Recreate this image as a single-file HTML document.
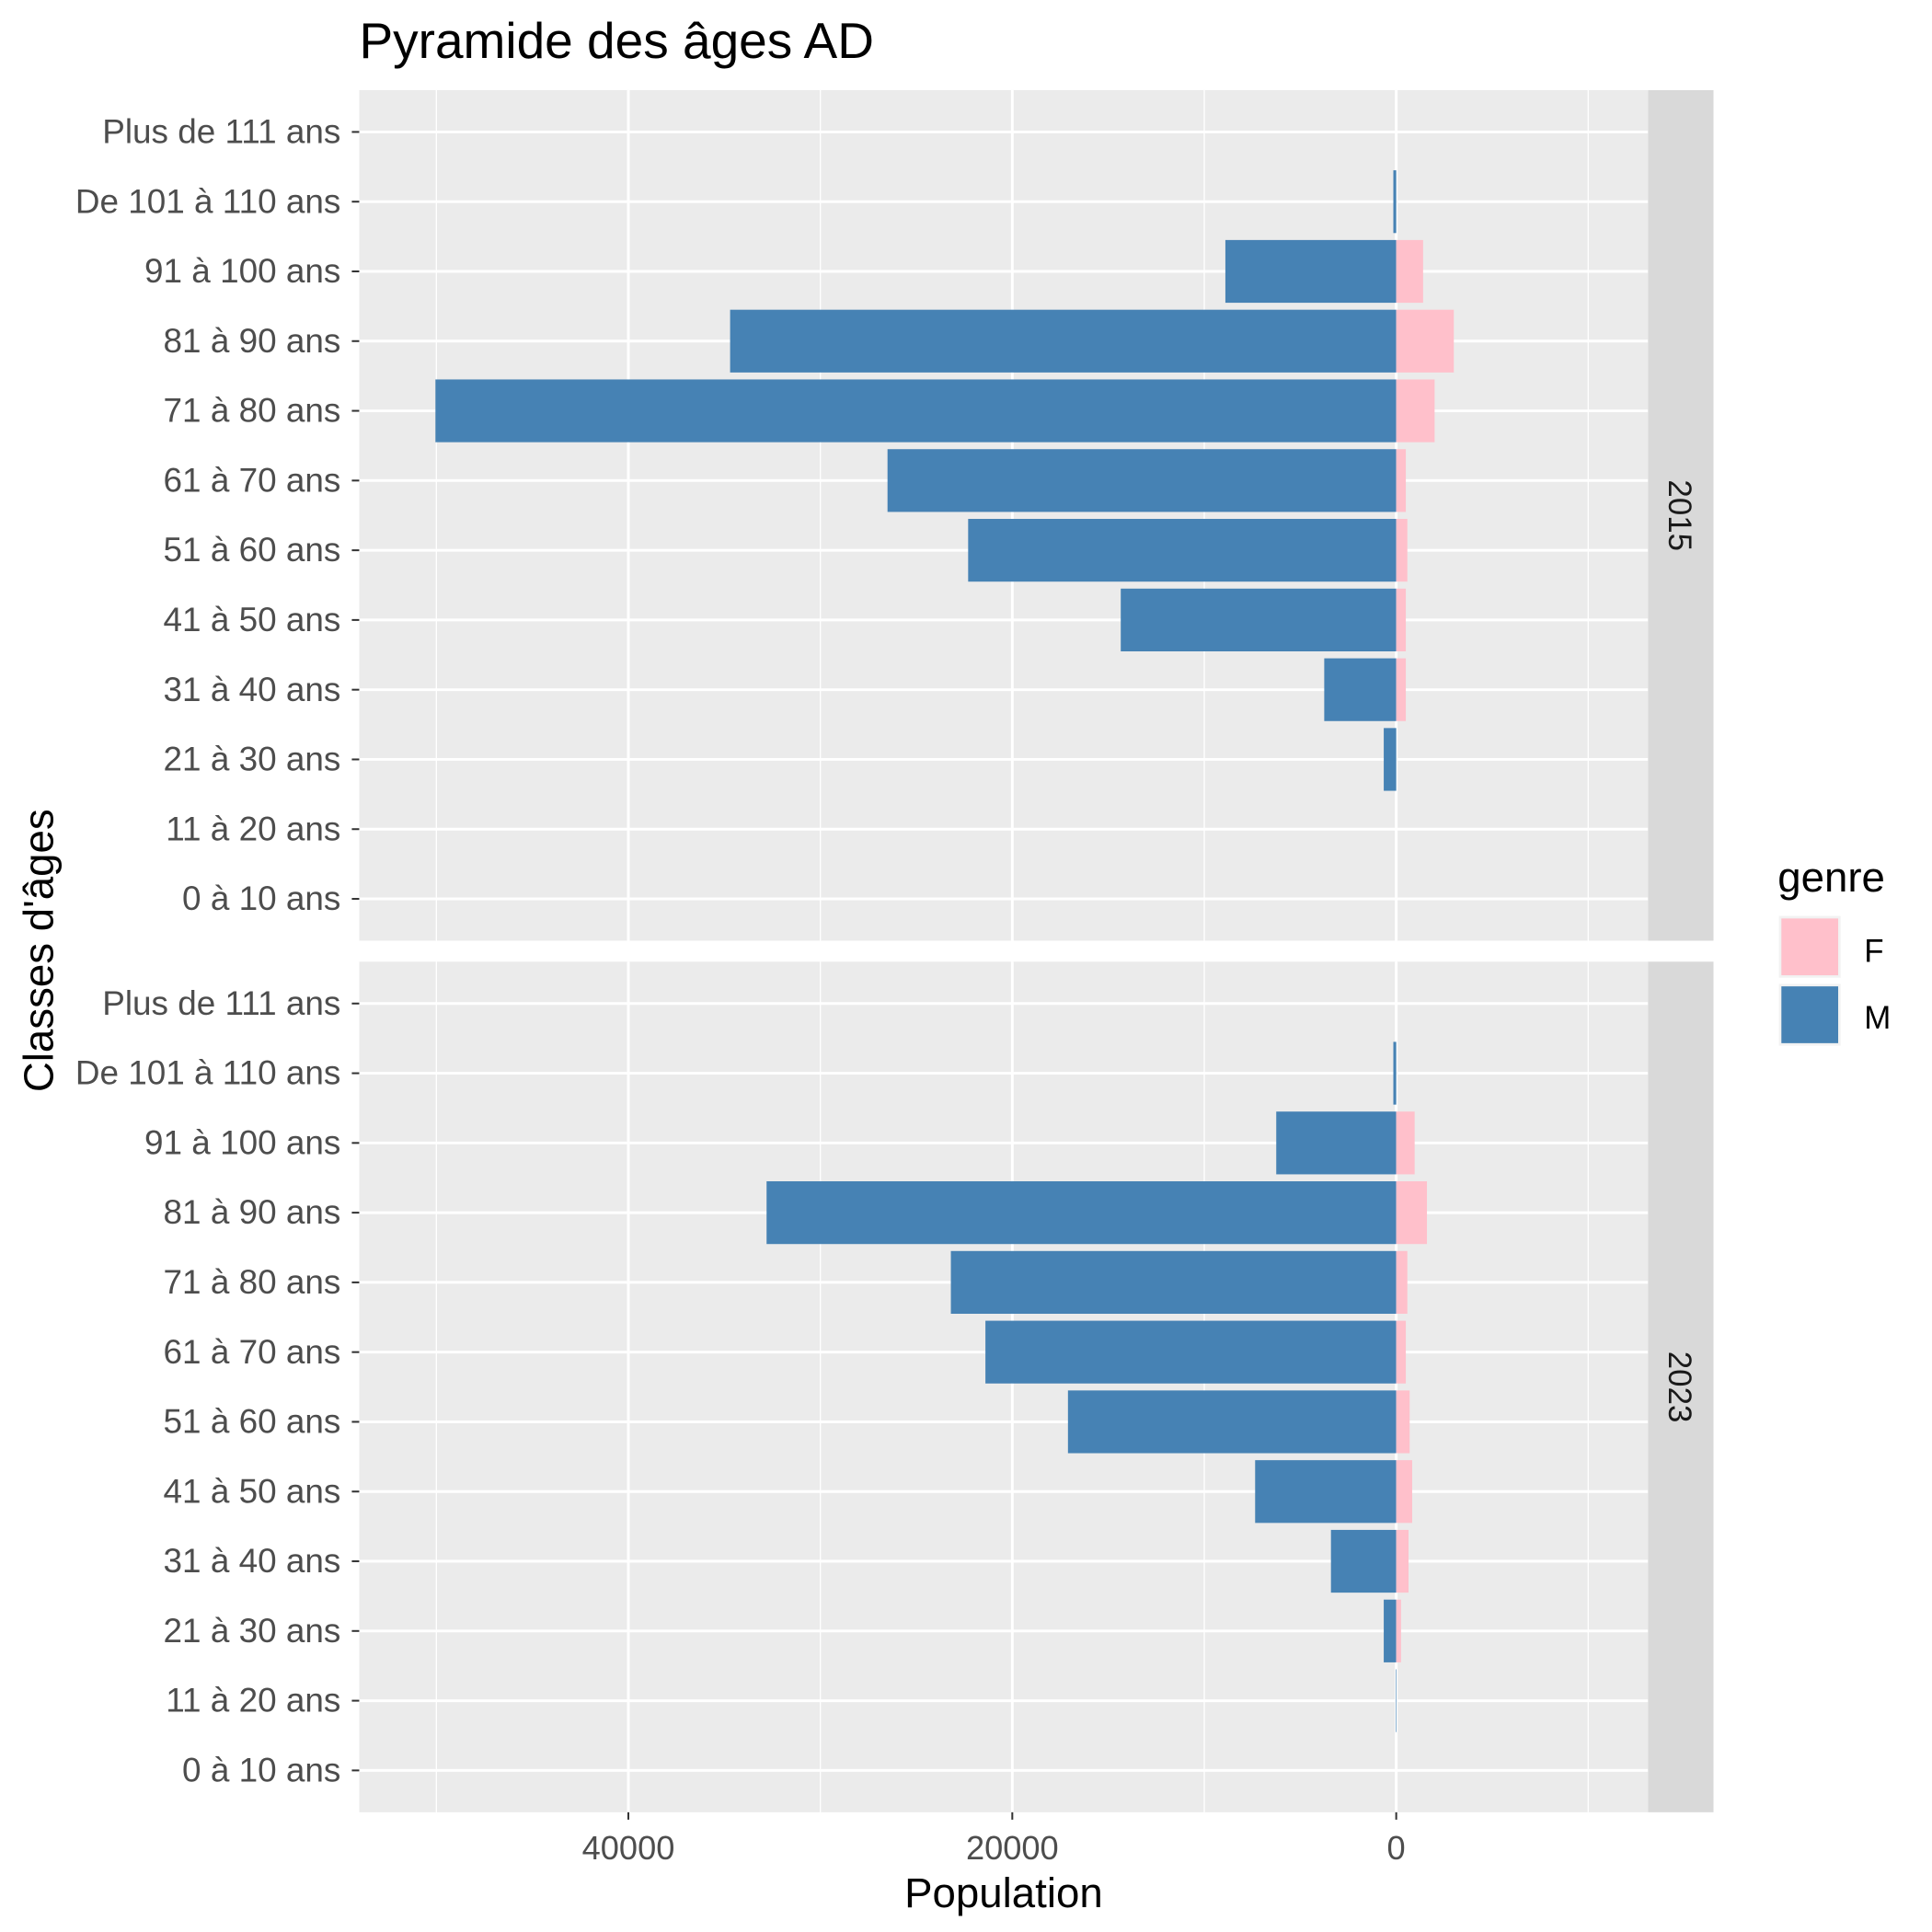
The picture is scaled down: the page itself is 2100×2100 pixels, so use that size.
<!DOCTYPE html>
<html><head><meta charset="utf-8"><style>
html,body{margin:0;padding:0;background:#fff}
svg{display:block}
text{font-family:"Liberation Sans",Arial,sans-serif}
</style></head><body>
<svg id="chart" width="2100" height="2100" viewBox="0 0 1565 1565" xmlns="http://www.w3.org/2000/svg">
<text x="291" y="47" font-size="41" fill="#000">Pyramide des âges AD</text>
<g id="plot"></g>
<text x="813" y="1545" font-size="34" text-anchor="middle" fill="#000">Population</text>
<text transform="translate(43,770) rotate(-90)" font-size="34" text-anchor="middle" fill="#000">Classes d'âges</text>
<g>
<text x="1440" y="722" font-size="34" fill="#000">genre</text>
<rect x="1441" y="742" width="50" height="50" fill="#f2f2f2"/>
<rect x="1443" y="744" width="46" height="46" fill="#FFC0CB"/>
<text x="1510" y="779" font-size="26" fill="#000">F</text>
<rect x="1441" y="797" width="50" height="50" fill="#f2f2f2"/>
<rect x="1443" y="799" width="46" height="46" fill="#4682B4"/>
<text x="1510" y="833" font-size="26" fill="#000">M</text>
</g>
</svg>
<script>
const categories=["0 à 10 ans","11 à 20 ans","21 à 30 ans","31 à 40 ans","41 à 50 ans","51 à 60 ans","61 à 70 ans","71 à 80 ans","81 à 90 ans","91 à 100 ans","De 101 à 110 ans","Plus de 111 ans"];
const years=["2015","2023"];
const m2015=[0,0,650,3750,14350,22300,26500,50050,34700,8900,150,0];
const f2015=[0,0,0,500,500,580,500,2000,3000,1400,0,0];
const m2023=[0,30,650,3400,7350,17100,21400,23200,32800,6250,150,0];
const f2023=[0,0,250,640,830,700,500,580,1600,960,0,0];
const xTicks=[40000,20000,0];
const xMinor=[50000,30000,10000,-10000];

const NS="http://www.w3.org/2000/svg";
const plot=document.getElementById('plot');
function mk(tag,attrs,parent){const e=document.createElementNS(NS,tag);for(const k in attrs)e.setAttribute(k,attrs[k]);(parent||plot).appendChild(e);return e;}
const L=291,R=1335;
function xs(v){return 1131-(v/20000)*311;}
const panels=[{top:73,bot:762,m:m2015,f:f2015,y:years[0]},{top:779,bot:1468,m:m2023,f:f2023,y:years[1]}];
const n=categories.length;
panels.forEach((p,pi)=>{
  const g=mk('g',{});
  
  
  const bg=mk('rect',{x:L,y:p.top,width:R-L,height:p.bot-p.top,fill:'#EBEBEB'},g);
  
  
  const h=p.bot-p.top;
  const step=h/(n+0.2);
  function ys(i){return p.bot-step*(0.6+i);}
  xMinor.forEach(v=>{const l=mk('line',{x1:xs(v),x2:xs(v),y1:p.top,y2:p.bot,stroke:'#fff','stroke-width':1},g);
    });
  xTicks.forEach(v=>{const l=mk('line',{x1:xs(v),x2:xs(v),y1:p.top,y2:p.bot,stroke:'#fff','stroke-width':2.2},g);
    });
  categories.forEach((c,i)=>{
    const y=ys(i);
    const l=mk('line',{x1:L,x2:R,y1:y,y2:y,stroke:'#fff','stroke-width':2.2},g);
    
    const t=mk('line',{x1:L-6,x2:L,y1:y,y2:y,stroke:'#333','stroke-width':1.5},g);
    
    const tx=mk('text',{x:L-15,y:y+9,'font-size':27.5,'text-anchor':'end',fill:'#4d4d4d'},g);
    tx.textContent=c;
    
  });
  const bh=step*0.9;
  categories.forEach((c,i)=>{
    const y=ys(i);
    if(p.m[i]>0){const x0=xs(p.m[i]);const b=mk('rect',{x:x0,y:y-bh/2,width:1131-x0,height:bh,fill:'#4682B4'},g);
      }
    if(p.f[i]>0){const x1=xs(-p.f[i]);const b=mk('rect',{x:1131,y:y-bh/2,width:x1-1131,height:bh,fill:'#FFC0CB'},g);
      }
  });
  const st=mk('rect',{x:R,y:p.top,width:53,height:h,fill:'#D9D9D9'},g);
  
  const cy=(p.top+p.bot)/2;
  const stx=mk('text',{transform:`translate(1352,${cy}) rotate(90)`,'font-size':26,'text-anchor':'middle',fill:'#1a1a1a'},g);
  stx.textContent=p.y;
  
});
xTicks.forEach(v=>{
  const t=mk('line',{x1:xs(v),x2:xs(v),y1:1468,y2:1474,stroke:'#333','stroke-width':1.5});
  
  const tx=mk('text',{x:xs(v),y:1506,'font-size':27,'text-anchor':'middle',fill:'#4d4d4d'});
  tx.textContent=String(v);
  
});
</script>
</body></html>
